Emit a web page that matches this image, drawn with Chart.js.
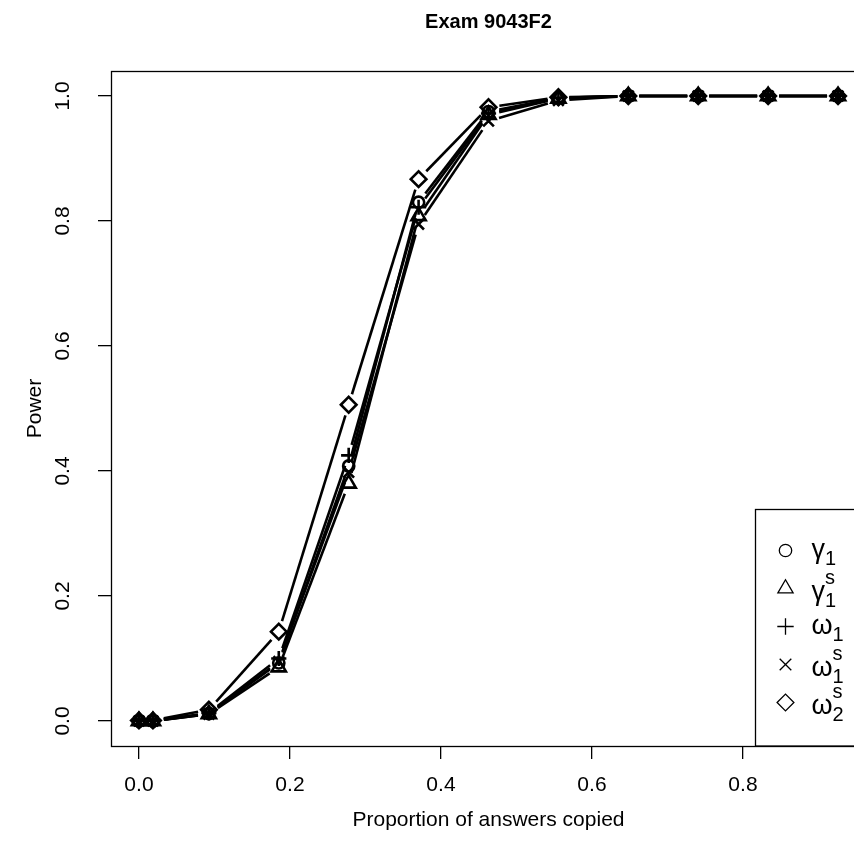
<!DOCTYPE html>
<html><head><meta charset="utf-8">
<script src="https://cdn.jsdelivr.net/npm/chart.js@4.4.1/dist/chart.umd.min.js"></script>
<style>html,body{margin:0;padding:0;overflow:hidden;background:#fff}#wrap{width:880px;height:852px}</style>
</head><body><div id="wrap"><canvas id="c" width="880" height="852"></canvas></div>
<script>
// ---- data ----
const proportionCopied = [0, 1/54, 5/54, 10/54, 15/54, 20/54, 25/54, 30/54, 35/54, 40/54, 45/54, 50/54];
const gamma1  = [0.000, 0.000, 0.012, 0.093, 0.408, 0.830, 0.975, 0.997, 1.000, 1.000, 1.000, 1.000];
const gamma1s = [0.000, 0.000, 0.011, 0.086, 0.380, 0.808, 0.970, 0.996, 1.000, 1.000, 1.000, 1.000];
const omega1  = [0.000, 0.000, 0.013, 0.100, 0.425, 0.822, 0.972, 0.997, 1.000, 1.000, 1.000, 1.000];
const omega1s = [0.000, 0.000, 0.011, 0.095, 0.398, 0.795, 0.960, 0.993, 1.000, 1.000, 1.000, 1.000];
const omega2s = [0.001, 0.001, 0.018, 0.143, 0.506, 0.867, 0.982, 0.998, 1.000, 1.000, 1.000, 1.000];
const xTicks = [0, 0.2, 0.4, 0.6, 0.8];
const yTicks = [0, 0.2, 0.4, 0.6, 0.8, 1.0];
const legendBase = ['γ', 'γ', 'ω', 'ω', 'ω'];
const legendSub  = ['1', '1', '1', '1', '2'];
const legendSup  = ['', 's', '', 's', 's'];
const chartTitle = 'Exam 9043F2';
const xTitle = 'Proportion of answers copied';
const yTitle = 'Power';

// ---- styles ----
const FONT = "'Liberation Sans', Arial, Helvetica, sans-serif";
const seriesValues = [gamma1, gamma1s, omega1, omega1s, omega2s];
const pointStyles = ['circle', 'triangle', 'cross', 'crossRot', 'rectRot'];
const pointSizes  = [5.6, 8.2, 7.6, 7.6, 7.8];
const GAP = 11;

function gapDash(ctx) {
  const p0 = ctx.p0, p1 = ctx.p1;
  const L = Math.hypot(p1.x - p0.x, p1.y - p0.y);
  if (!(L > 2 * GAP + 0.5)) return [0, L + 10];
  return [0, GAP, L - 2 * GAP, GAP];
}

const datasets = seriesValues.map((vals, i) => ({
  label: legendBase[i] + legendSub[i] + legendSup[i],
  data: proportionCopied.map((x, k) => ({x: x, y: vals[k]})),
  borderColor: '#000',
  borderWidth: 2.6,
  borderCapStyle: 'butt',
  pointStyle: pointStyles[i],
  pointRadius: pointSizes[i],
  pointHoverRadius: pointSizes[i],
  pointBorderColor: '#000',
  pointBackgroundColor: 'rgba(0,0,0,0)',
  pointBorderWidth: 2.6,
  fill: false,
  tension: 0,
  segment: { borderDash: gapDash }
}));

const framePlugin = {
  id: 'frame',
  beforeDatasetsDraw(chart) {
    const {ctx, chartArea: a} = chart;
    ctx.save();
    ctx.strokeStyle = '#000';
    ctx.lineWidth = 1.3;
    ctx.strokeRect(Math.round(a.left) + 0.5, Math.round(a.top) + 0.5,
                   Math.round(a.right - a.left), Math.round(a.bottom - a.top));
    ctx.restore();
  }
};

const legendPlugin = {
  id: 'rlegend',
  afterDatasetsDraw(chart) {
    const {ctx, chartArea: a} = chart;
    const left = Math.round(a.right) - 111 + 0.5;
    const top = Math.round(a.bottom) - 237 + 0.5;
    ctx.save();
    ctx.fillStyle = '#fff';
    ctx.fillRect(left, top, Math.round(a.right) - left, Math.round(a.bottom) - top);
    ctx.strokeStyle = '#000';
    ctx.lineWidth = 1.3;
    ctx.strokeRect(left, top, Math.round(a.right) - left, Math.round(a.bottom) - top);
    const helpers = Chart.helpers;
    for (let i = 0; i < legendBase.length; i++) {
      const rowY = top + 41 + i * 38;
      const sx = left + 30;
      ctx.strokeStyle = '#000';
      ctx.fillStyle = 'rgba(0,0,0,0)';
      ctx.lineWidth = 1.3;
      helpers.drawPoint(ctx, {pointStyle: pointStyles[i], radius: pointSizes[i] + 0.6, rotation: 0, borderWidth: 1.3}, sx, rowY);
      const tx = left + 56;
      const base = rowY + (legendSup[i] ? 11 : 7);
      ctx.fillStyle = '#000';
      ctx.textAlign = 'left';
      ctx.textBaseline = 'alphabetic';
      ctx.font = '27px ' + FONT;
      ctx.fillText(legendBase[i], tx, base);
      const w = ctx.measureText(legendBase[i]).width;
      ctx.font = '20px ' + FONT;
      ctx.fillText(legendSub[i], tx + w, base + 7);
      if (legendSup[i]) ctx.fillText(legendSup[i], tx + w, base - 16);
    }
    ctx.restore();
  }
};

Chart.defaults.font.family = FONT;
Chart.defaults.color = '#000';

new Chart(document.getElementById('c'), {
  type: 'line',
  data: { datasets },
  options: {
    responsive: false,
    animation: false,
    devicePixelRatio: 1,
    layout: { padding: { left: 0, right: 14, top: 0, bottom: 0 } },
    plugins: {
      legend: { display: false },
      tooltip: { enabled: false },
      title: {
        display: true, text: chartTitle, fullSize: false,
        font: { size: 20, weight: 'bold', family: FONT }, color: '#000',
        padding: { top: 10, bottom: 37 }
      }
    },
    scales: {
      x: {
        type: 'linear', min: -0.037037, max: 0.962963,
        afterBuildTicks: s => { s.ticks = xTicks.map(v => ({value: v})); },
        afterFit: s => { s.height = 106; },
        grid: { drawOnChartArea: false, drawTicks: true, tickLength: 13, color: '#000', lineWidth: 1.3 },
        border: { display: false },
        ticks: { font: { size: 21 }, color: '#000', padding: 13.9, maxRotation: 0, minRotation: 0,
                 callback: v => Number(v).toFixed(1) },
        title: { display: true, text: xTitle, font: { size: 21 }, color: '#000', padding: { top: 0, bottom: 19.4 } }
      },
      y: {
        type: 'linear', min: -0.04, max: 1.04,
        afterBuildTicks: s => { s.ticks = yTicks.map(v => ({value: v})); },
        afterFit: s => { s.width = 111; },
        grid: { drawOnChartArea: false, drawTicks: true, tickLength: 13, color: '#000', lineWidth: 1.3 },
        border: { display: false },
        ticks: { font: { size: 21 }, color: '#000', padding: 19.9, minRotation: 90, maxRotation: 90,
                 crossAlign: 'center', callback: v => Number(v).toFixed(1) },
        title: { display: true, text: yTitle, font: { size: 21 }, color: '#000', padding: { top: 22.4, bottom: 0 } }
      }
    }
  },
  plugins: [framePlugin, legendPlugin]
});
</script>
</body></html>
